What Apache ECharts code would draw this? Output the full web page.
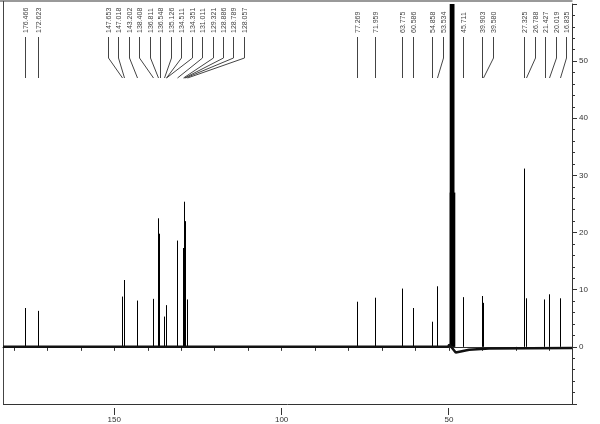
<!DOCTYPE html>
<html><head><meta charset="utf-8">
<script src="https://cdn.jsdelivr.net/npm/echarts@6/dist/echarts.min.js"></script>
<style>html,body{margin:0;padding:0;background:#fff}#c{width:600px;height:424px}</style>
</head><body><div id="c"></div>
<script>
// ---- data ----
const shifts = [176.466, 172.623, 147.653, 147.018, 143.202, 138.408, 136.811, 136.548, 135.126, 134.511, 134.351, 131.011, 129.321, 128.886, 128.789, 128.057, 77.269, 71.959, 63.775, 60.586, 54.858, 53.534, 45.711, 39.903, 39.580, 27.325, 26.788, 21.427, 20.019, 16.835];
const heights = [6.8, 6.3, 8.8, 11.7, 8.1, 8.4, 22.5, 19.8, 5.3, 7.3, 4.5, 18.6, 17.3, 25.4, 22.0, 8.3, 7.9, 8.6, 10.2, 6.8, 4.4, 10.6, 8.7, 8.9, 7.7, 31.2, 8.5, 8.3, 9.2, 8.5];
const solventShifts = [49.64, 49.43, 49.21, 49.00, 48.79, 48.57, 48.36];
const solventHeights = [27, 81, 162, 189, 162, 81, 27];
const baseShifts = [183.25, 50.3, 49.9, 48.0, 46.5, 44.0, 38.0, 13.25];
const baseLevels = [0, 0, 0.4, -1.0, -0.8, -0.5, -0.3, -0.2];
const xTicks = [180, 170, 160, 150, 140, 130, 120, 110, 100, 90, 80, 70, 60, 50, 40, 30, 20];
const xLabels = [150, 100, 50];
const yLabels = [0, 10, 20, 30, 40, 50];
const X_MIN = 13.25, X_MAX = 183.25, Y_MIN = -10, Y_MAX = 60;

const FONT = 'Liberation Sans, Arial, sans-serif';
const chart = echarts.init(document.getElementById('c'), null, {renderer: 'canvas'});

const lineData = shifts.map((s, i) => [s, heights[i], 1])
  .concat(solventShifts.map((s, i) => [s, solventHeights[i], 1.6]));
const baseData = baseShifts.map((s, i) => [s, baseLevels[i]]);

function crisp(v) { return Math.round(v - 0.5) + 0.5; }

chart.setOption({
  animation: false,
  grid: {left: 3, right: 28, top: 4, bottom: 20},
  xAxis: {
    type: 'value', inverse: true, min: X_MIN, max: X_MAX, position: 'bottom', offset: 4,
    axisLine: {show: true, lineStyle: {color: '#333', width: 1}},
    axisTick: {show: true, customValues: xTicks, length: 4, lineStyle: {color: '#333'}},
    axisLabel: {customValues: xLabels, margin: 8, fontSize: 8, color: '#333', fontFamily: FONT},
    splitLine: {show: false}
  },
  yAxis: {
    type: 'value', position: 'right', min: Y_MIN, max: Y_MAX, interval: 10,
    axisLine: {show: true, lineStyle: {color: '#333', width: 1}},
    axisTick: {show: true, length: 5, lineStyle: {color: '#333'}},
    minorTick: {show: true, splitNumber: 5, length: 3, lineStyle: {color: '#333'}},
    axisLabel: {customValues: yLabels, margin: 7, fontSize: 8, color: '#333', fontFamily: FONT},
    splitLine: {show: false}
  },
  series: [
    {
      type: 'line', data: baseData, symbol: 'none', silent: true,
      lineStyle: {color: '#111', width: 2.5}
    },
    {
      type: 'custom', data: lineData, clip: true, silent: true,
      renderItem: (params, api) => {
        const x = api.value(0), h = Math.min(api.value(1), Y_MAX);
        const p0 = api.coord([x, 0]), p1 = api.coord([x, h]);
        const cx = crisp(p0[0]);
        return {type: 'line', shape: {x1: cx, y1: p0[1], x2: cx, y2: p1[1]},
          style: {stroke: '#000', lineWidth: api.value(2)}};
      }
    },
    {
      // longer ticks for labelled x values
      type: 'custom', data: xLabels.map(v => [v]), clip: false, silent: true,
      renderItem: (params, api) => {
        const p = api.coord([api.value(0), Y_MIN]);
        const cx = crisp(p[0]);
        return {type: 'line', shape: {x1: cx, y1: p[1] + 4, x2: cx, y2: p[1] + 11},
          style: {stroke: '#333', lineWidth: 1}};
      }
    }
  ]
});

// ---- peak label layout ----
const px = shifts.map(s => chart.convertToPixel({xAxisIndex: 0}, s));
const G = 10.45;
// greedy left-to-right
const g = [];
px.forEach((p, i) => { g.push(i === 0 ? p : Math.max(p, g[i - 1] + G)); });
// split into clusters of pushed labels
const groups = [];
px.forEach((p, i) => {
  if (i === 0 || g[i] === p) groups.push([i]); else groups[groups.length - 1].push(i);
});
const lx = g.slice();
groups.forEach(idx => {
  const n = idx.length;
  if (n < 2) return;
  let maxDev = 0, sum = 0;
  idx.forEach(i => { maxDev = Math.max(maxDev, g[i] - px[i]); sum += px[i]; });
  const W = Math.min(1, 36 / maxDev);
  const start = sum / n - (n - 1) * G / 2;
  idx.forEach((i, k) => { lx[i] = W * g[i] + (1 - W) * (start + k * G); });
});

const graphics = [];
// frame
const r = chart.getModel().getComponent('grid').coordinateSystem.getRect();
graphics.push({type: 'line', silent: true, shape: {x1: 0, y1: 1, x2: crisp(r.x + r.width), y2: 1}, style: {stroke: '#999', lineWidth: 2}});
graphics.push({type: 'line', silent: true, shape: {x1: crisp(r.x), y1: 1, x2: crisp(r.x), y2: r.y + r.height}, style: {stroke: '#444', lineWidth: 1}});
graphics.push({type: 'line', silent: true, shape: {x1: r.x, y1: crisp(r.y + r.height), x2: r.x + r.width, y2: crisp(r.y + r.height)}, style: {stroke: '#333', lineWidth: 1}});

shifts.forEach((v, i) => {
  const x = crisp(lx[i]);
  const pk = crisp(px[i]);
  graphics.push({
    type: 'text', silent: true, x: x + 0.5, y: 33, rotation: Math.PI / 2,
    style: {text: v.toFixed(3), fontSize: 7, fontFamily: FONT, fill: '#444',
      align: 'left', verticalAlign: 'middle', textAlign: 'left', textVerticalAlign: 'middle'}
  });
  const pts = Math.abs(x - pk) < 1.5 ? [[x, 37], [x, 78]] : [[x, 37], [x, 58], [pk, 78]];
  graphics.push({type: 'polyline', silent: true, shape: {points: pts},
    style: {stroke: '#444', lineWidth: 1, fill: null}});
});
chart.setOption({graphic: {elements: graphics}});
</script>
</body></html>
